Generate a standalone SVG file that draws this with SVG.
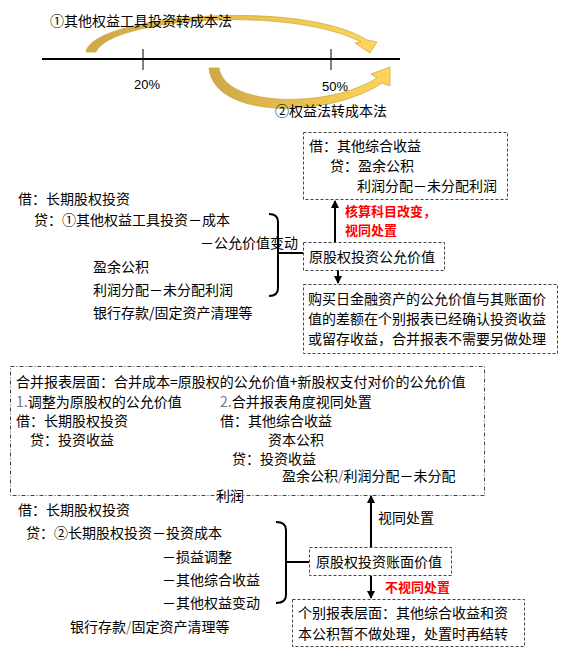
<svg xmlns="http://www.w3.org/2000/svg" width="573" height="665" viewBox="0 0 573 665">
<style>
text{font-family:"Noto Sans CJK SC","Noto Sans CJK JP",sans-serif;font-size:14px;fill:#000}
.red{fill:#ff0000;font-weight:bold;font-size:13px}
.pct{font-family:"Liberation Sans",Arial,sans-serif;font-size:13px}
.box{fill:none;stroke:#444;stroke-width:1;stroke-dasharray:3 2}
.box2{fill:none;stroke:#444;stroke-width:1;stroke-dasharray:4 2 1 2}
.br{fill:none;stroke:#000;stroke-width:2}
.ar{stroke:#000;stroke-width:2;fill:none;marker-end:url(#ah)}
.gold{fill:url(#g);stroke:#C9A030;stroke-width:0.7}
</style>
<defs>
<linearGradient id="g" x1="0" y1="0" x2="1" y2="0">
<stop offset="0" stop-color="#CFA848"/>
<stop offset="1" stop-color="#FFD65A"/>
</linearGradient>
<marker id="ah" markerUnits="userSpaceOnUse" markerWidth="8" markerHeight="8" refX="7" refY="4" orient="auto">
<path d="M0,0 L8,4 L0,8 z" fill="#000"/>
</marker>
</defs>

<g id="timeline">
<path class="gold" d="M86 52 C92 15 300 -2 367 40 L377 42 L370 53 L355 43 L361 42 C290 5 110 18 96 52 Z"/>
<path class="gold" d="M209 68 C214 120 330 118 382 83 L390 86 L390 67 L371 74 L377 78 C330 108 225 108 219 68 Z"/>
<text x="50" y="26">①其他权益工具投资转成本法</text>
<text x="275" y="116">②权益法转成本法</text>
<line x1="42" y1="59" x2="400" y2="59" stroke="#000" stroke-width="2"/>
<line x1="143" y1="49" x2="143" y2="70" stroke="#000" stroke-width="1"/>
<line x1="331" y1="49" x2="331" y2="70" stroke="#000" stroke-width="1"/>
<text class="pct" x="134" y="89">20%</text>
<text class="pct" x="322" y="91">50%</text>
</g>

<g id="connectors">
<path class="br" d="M269 214 Q278 214 278 222 L278 288 Q278 296 269 296 M278 253 L303 253"/>
<line class="ar" x1="335" y1="242" x2="335" y2="201"/>
<line class="ar" x1="338" y1="270" x2="338" y2="283"/>
<path class="br" d="M276 522 Q286 522 286 530 L286 595 Q286 603 276 603 M286 562 L309 562"/>
<line class="ar" x1="371" y1="547" x2="371" y2="496"/>
<line class="ar" x1="371" y1="576" x2="371" y2="598"/>
</g>

<g id="entry1">
<text x="18" y="204">借：长期股权投资</text>
<text x="34" y="225">贷：①其他权益工具投资－成本</text>
<text x="200" y="248">－公允价值变动</text>
<text x="93" y="272">盈余公积</text>
<text x="93" y="295">利润分配－未分配利润</text>
<text x="93" y="318">银行存款/固定资产清理等</text>
</g>

<g id="oci-box">
<rect class="box" x="303.5" y="132.5" width="204" height="67"/>
<text x="309" y="151">借：其他综合收益</text>
<text x="330" y="171">贷：盈余公积</text>
<text x="357" y="191">利润分配－未分配利润</text>
</g>

<g id="label-red1">
<text class="red" x="345" y="216">核算科目改变，</text>
<text class="red" x="345" y="235">视同处置</text>
</g>

<g id="fv-box">
<rect class="box" x="303.5" y="242.5" width="141" height="28"/>
<text x="309" y="262">原股权投资公允价值</text>
</g>

<g id="note1">
<rect class="box" x="303.5" y="284.5" width="254" height="69"/>
<text x="308" y="304">购买日金融资产的公允价值与其账面价</text>
<text x="308" y="324">值的差额在个别报表已经确认投资收益</text>
<text x="308" y="344">或留存收益，合并报表不需要另做处理</text>
</g>

<g id="consol-box">
<rect class="box2" x="10.5" y="366.5" width="474" height="129"/>
<text x="16" y="387">合并报表层面：合并成本=原股权的公允价值+新股权支付对价的公允价值</text>
<text x="16" y="407"><tspan fill="#777">1.</tspan>调整为原股权的公允价值</text>
<text x="220" y="407"><tspan fill="#777">2.</tspan>合并报表角度视同处置</text>
<text x="16" y="426">借：长期股权投资</text>
<text x="220" y="426">借：其他综合收益</text>
<text x="30" y="445">贷：投资收益</text>
<text x="268" y="445">资本公积</text>
<text x="232" y="464">贷：投资收益</text>
<text x="282" y="481">盈余公积<tspan fill="#777">/</tspan>利润分配－未分配</text>
<text x="216" y="501">利润</text>
</g>

<g id="entry2">
<text x="18" y="515">借：长期股权投资</text>
<text x="26" y="538">贷：②长期股权投资－投资成本</text>
<text x="162" y="562">－损益调整</text>
<text x="162" y="585">－其他综合收益</text>
<text x="162" y="608">－其他权益变动</text>
<text x="70" y="632">银行存款<tspan fill="#777">/</tspan>固定资产清理等</text>
</g>

<g id="label-dispose">
<text x="378" y="523">视同处置</text>
</g>

<g id="bv-box">
<rect class="box" x="309.5" y="547.5" width="142" height="28"/>
<text x="316" y="567">原股权投资账面价值</text>
</g>

<g id="label-red2">
<text class="red" x="385" y="592">不视同处置</text>
</g>

<g id="note2">
<rect class="box" x="292.5" y="599.5" width="232" height="47"/>
<text x="298" y="618">个别报表层面：其他综合收益和资</text>
<text x="298" y="639">本公积暂不做处理，处置时再结转</text>
</g>
</svg>
